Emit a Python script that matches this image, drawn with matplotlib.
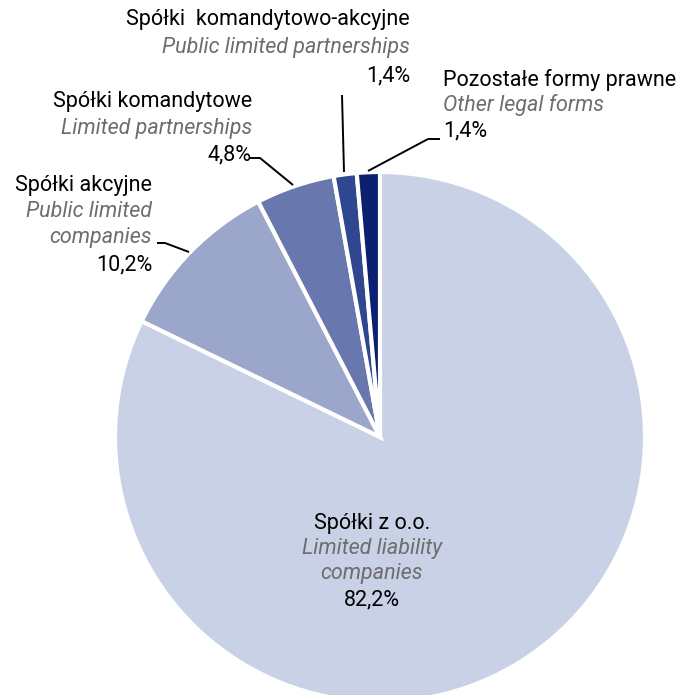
import matplotlib
matplotlib.use("Agg")
from matplotlib import pyplot as plt

# shares of legal forms, clockwise from the top
labels_pl = ["Spółki z o.o.", "Spółki akcyjne", "Spółki komandytowe",
             "Spółki  komandytowo-akcyjne", "Pozostałe formy prawne"]
labels_en = ["Limited liability\ncompanies", "Public limited\ncompanies",
             "Limited partnerships", "Public limited partnerships",
             "Other legal forms"]
shares = [82.2, 10.2, 4.8, 1.4, 1.4]
colors = ["#c8d1e5", "#9aa6ca", "#6878ae", "#2f4690", "#0b216f"]

W, H = 680, 695
plt.rcParams['font.family'] = ['Roboto', 'DejaVu Sans']

fig = plt.figure(figsize=(W / 100, H / 100), dpi=100)
ax = fig.add_axes([0, 0, 1, 1])

cx, cy, r = 380, 437, 265
ax.pie(shares, colors=colors, startangle=90, counterclock=False,
       center=(cx, H - cy), radius=r,
       wedgeprops=dict(edgecolor="white", linewidth=3))
ax.set_xlim(0, W)
ax.set_ylim(0, H)
ax.set_aspect("equal")
ax.axis("off")

GRAY = "#6d6d6d"
FS = 15.5


def pct(v):
    return f"{v:.1f}".replace(".", ",") + "%"


def block(x, y, i, ha, gap=26.5):
    # polish name, english name (italic, gray), value
    en_lines = labels_en[i].split("\n")
    ax.text(x, H - y, labels_pl[i], ha=ha, va="center", fontsize=FS, color="black")
    yy = y
    for line in en_lines:
        yy += gap
        ax.text(x, H - yy, line, ha=ha, va="center", fontsize=FS,
                color=GRAY, style="italic")
    yy += gap
    ax.text(x, H - yy, pct(shares[i]), ha=ha, va="center", fontsize=FS, color="black")


def leader(pts):
    ax.plot([p[0] for p in pts], [H - p[1] for p in pts], color="black", lw=1.4,
            solid_capstyle="butt")


block(372, 523, 0, "center", gap=25.5)
block(152, 185, 1, "right")
block(252, 102, 2, "right")
block(410, 20, 3, "right", gap=28)
block(443, 80, 4, "left", gap=25.5)

leader([(342, 95), (344, 172)])
leader([(428, 139), (440, 139)])
leader([(428, 139), (368, 171)])
leader([(250, 158), (260, 158), (293, 185)])
leader([(157, 243), (165, 243), (189, 252)])

fig.savefig("out.png", dpi=100)
